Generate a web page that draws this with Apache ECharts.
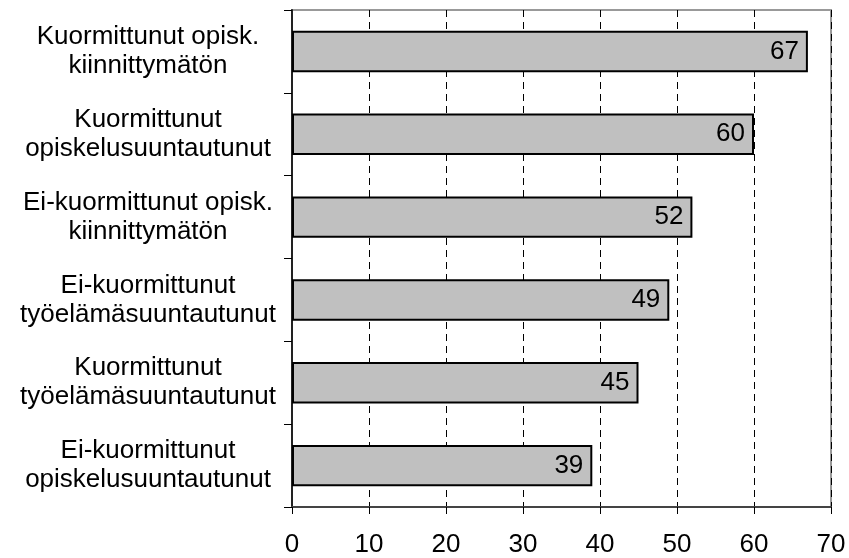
<!DOCTYPE html>
<html>
<head>
<meta charset="utf-8">
<script src="https://cdn.jsdelivr.net/npm/echarts@6/dist/echarts.min.js"></script>
<style>
html,body{margin:0;padding:0;background:#fff;}
#chart{width:849px;height:558px;}
</style>
</head>
<body>
<div id="chart"></div>
<script>
const categories = [
  "Kuormittunut opisk.\nkiinnittymätön",
  "Kuormittunut\nopiskelusuuntautunut",
  "Ei-kuormittunut opisk.\nkiinnittymätön",
  "Ei-kuormittunut\ntyöelämäsuuntautunut",
  "Kuormittunut\ntyöelämäsuuntautunut",
  "Ei-kuormittunut\nopiskelusuuntautunut"
];
const values = [67, 60, 52, 49, 45, 39];
const xMin = 0, xMax = 70, xInterval = 10;

const chart = echarts.init(document.getElementById('chart'));
chart.setOption({
  animation: false,
  backgroundColor: '#fff',
  textStyle: { fontFamily: 'Liberation Sans, Arial, sans-serif' },
  grid: {
    left: 292, right: 18, top: 10, bottom: 50,
    show: true, borderColor: '#999', borderWidth: 2, backgroundColor: 'transparent'
  },
  xAxis: {
    type: 'value', min: xMin, max: xMax, interval: xInterval,
    axisLine: { show: true, lineStyle: { color: '#444', width: 2 } },
    axisTick: { show: true, length: 7, lineStyle: { color: '#000', width: 1 } },
    axisLabel: { fontSize: 26, color: '#000', margin: 25, fontFamily: 'Liberation Sans, Arial, sans-serif' },
    splitLine: { show: true, lineStyle: { color: '#000', width: 1, type: [7, 5] } }
  },
  yAxis: {
    type: 'category', data: categories, inverse: true,
    axisLine: { show: true, lineStyle: { color: '#222', width: 2 } },
    axisTick: { show: true, length: 8, lineStyle: { color: '#000', width: 1 } },
    axisLabel: {
      fontSize: 26, color: '#000', align: 'center', margin: 144, lineHeight: 29,
      fontFamily: 'Liberation Sans, Arial, sans-serif'
    },
    splitLine: { show: false }
  },
  series: [{
    type: 'bar', data: values, barCategoryGap: '50%',
    itemStyle: { color: '#c0c0c0', borderColor: '#000', borderWidth: 2 },
    label: {
      show: true, position: 'insideRight', distance: 9,
      fontSize: 26, color: '#000', fontFamily: 'Liberation Sans, Arial, sans-serif'
    }
  }]
});
</script>
</body>
</html>
